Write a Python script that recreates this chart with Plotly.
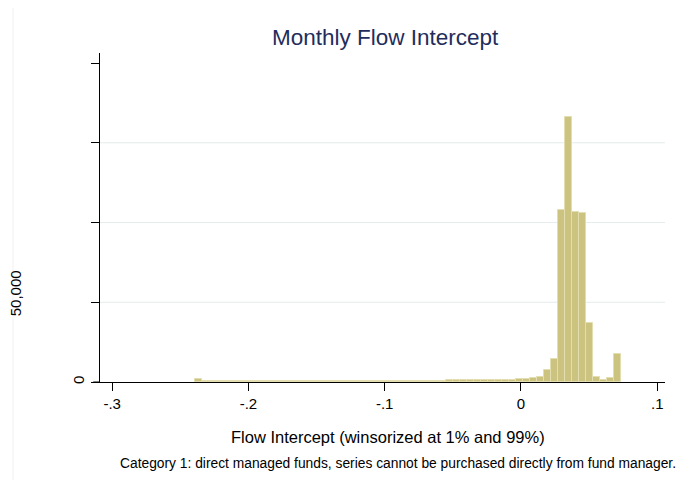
import plotly.graph_objects as go

# ---- data ----
bin_start = -0.2392
bin_width = 0.00512
counts = [
    2000,
    450, 420, 400, 420, 400, 430, 420, 400, 410, 420,
    430, 420, 440, 450, 430, 460, 470, 480, 500, 480,
    500, 520, 500, 530, 560, 540, 580, 600, 620, 650,
    680, 700, 750, 850, 900, 950, 1000, 1050, 1100, 1150,
    1200, 1250, 1300, 1350, 1450,
    1700, 1700, 2300, 3300, 7500, 14600, 107800, 166400, 106600, 106100,
    36800, 2900, 1250, 2300, 17400,
]
x_tickvals = [-0.3, -0.2, -0.1, 0, 0.1]
x_ticktext = ["-.3", "-.2", "-.1", "0", ".1"]
y_tickvals = [0, 50000, 100000, 150000, 200000]
y_ticktext = ["0", "", "", "", ""]
grid_vals = [50000, 100000, 150000]

title_text = "Monthly Flow Intercept"
x_title = "Flow Intercept (winsorized at 1% and 99%)"
note_text = "Category 1: direct managed funds, series cannot be purchased directly from fund manager."
y_label_text = "50,000"

centers = [bin_start + (i + 0.5) * bin_width for i in range(len(counts))]

FONT = "Arial, Liberation Sans, sans-serif"

fig = go.Figure()
fig.add_trace(go.Bar(
    x=centers, y=counts, width=bin_width,
    marker=dict(color="#cbc37f", line=dict(color="#e3deb0", width=1)),
    hoverinfo="x+y",
))

shapes = []
for g in grid_vals:
    shapes.append(dict(type="line", xref="paper", x0=0, x1=1, yref="y", y0=g, y1=g,
                       line=dict(color="#e4ecec", width=1), layer="below"))
shapes.append(dict(type="rect", xref="paper", yref="paper",
                   x0=-0.154, x1=1.06, y0=-0.31, y1=1.146,
                   line=dict(color="#f1f1f1", width=1), layer="below"))
# small extension of the x axis line to the left of the y axis
shapes.append(dict(type="line", xref="paper", yref="paper",
                   x0=-0.012, x1=0, y0=0, y1=0,
                   line=dict(color="black", width=1)))

fig.update_layout(
    width=685, height=480,
    margin=dict(l=92, r=28, t=45, b=106),
    paper_bgcolor="white", plot_bgcolor="white",
    showlegend=False,
    bargap=0,
    font=dict(family=FONT, color="black", size=14),
    shapes=shapes,
    xaxis=dict(
        range=[-0.3089, 0.1057],
        tickvals=x_tickvals, ticktext=x_ticktext,
        showline=True, linecolor="black", linewidth=1,
        ticks="outside", ticklen=8, tickcolor="black",
        showgrid=False, zeroline=False,
        tickfont=dict(size=15, family=FONT),
    ),
    yaxis=dict(
        range=[0, 206300],
        tickvals=y_tickvals, ticktext=y_ticktext,
        showline=True, linecolor="black", linewidth=1,
        ticks="outside", ticklen=8, tickcolor="black",
        showgrid=False, zeroline=False,
        tickangle=-90,
        ticklabelstandoff=1,
        tickfont=dict(size=15, family=FONT),
    ),
    annotations=[
        dict(text=title_text, xref="paper", yref="paper", x=0.505, y=1.0486,
             xanchor="center", yanchor="middle", showarrow=False,
             font=dict(size=22.5, color="#1f2d5c", family=FONT)),
        dict(text=x_title, xref="paper", yref="paper", x=0.509, y=-0.167,
             xanchor="center", yanchor="middle", showarrow=False,
             font=dict(size=16.5, color="black", family=FONT)),
        dict(text=note_text, xref="paper", yref="paper", x=0.527, y=-0.249,
             xanchor="center", yanchor="middle", showarrow=False,
             font=dict(size=13.8, color="black", family=FONT)),
        dict(text=y_label_text, xref="paper", yref="paper", x=-0.150, y=0.2705,
             xanchor="center", yanchor="middle", showarrow=False, textangle=-90,
             font=dict(size=15, color="black", family=FONT)),
    ],
)

fig.write_html("out.html")
